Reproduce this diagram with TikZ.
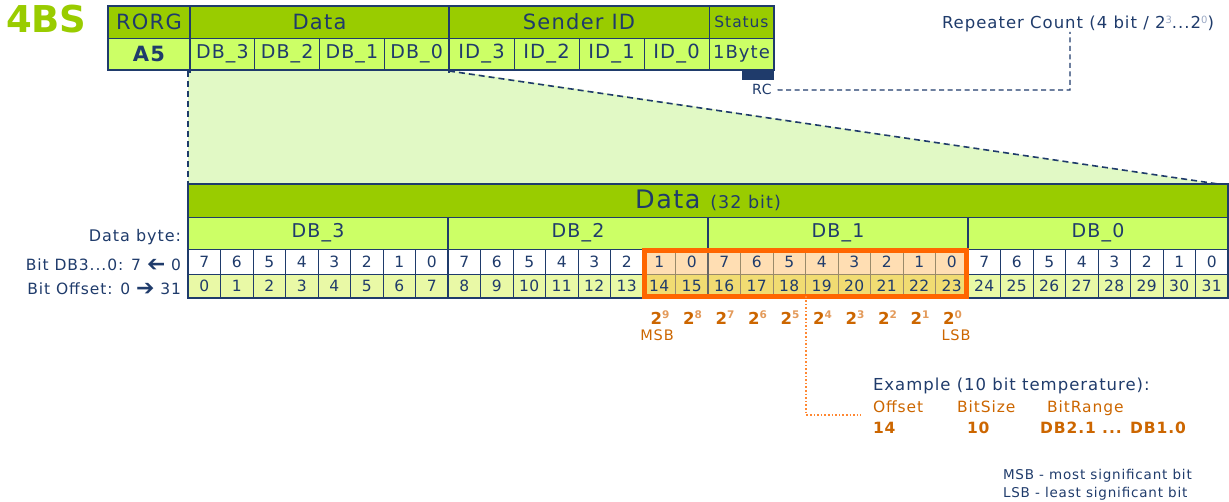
\documentclass[tikz,border=0pt]{standalone}
\usepackage{fontspec}
\setmainfont{DejaVu Sans}[LetterSpace=6]
\usetikzlibrary{calc,fit}
\definecolor{navy}{HTML}{1F3B6B}
\definecolor{hdrgreen}{HTML}{99CC00}
\definecolor{rowgreen}{HTML}{CCFF66}
\definecolor{offgreen}{HTML}{E9F9A6}
\definecolor{trapfill}{HTML}{E1F9C5}
\definecolor{orbox}{HTML}{FF6600}
\definecolor{ortext}{HTML}{CC6600}
\definecolor{orsup}{HTML}{E39A5A}
\definecolor{peach}{HTML}{FFDEB3}
\definecolor{gold}{HTML}{F1DC72}
\definecolor{orline}{HTML}{FF8833}
\definecolor{hlgrid}{HTML}{9A8A6A}
\definecolor{supgray}{HTML}{9AA8C4}
\newcommand\myfs[1]{\fontsize{#1}{#1}\selectfont}
\newcommand\pw[1]{{\bfseries 2}\raisebox{6pt}{\myfs{10.5}\color{orsup}\bfseries #1}}
\newcommand\rsup[1]{\raisebox{5pt}{\myfs{10}\color{supgray}#1}}
\newcommand\rarr{\raisebox{-1pt}{\addfontfeature{LetterSpace=0}\myfs{22}\bfseries ➔}}
\newcommand\larr{\reflectbox{\rarr}}
\begin{document}
\begin{tikzpicture}[x=1pt,y=-1pt,
  cellbox/.style={rectangle, draw=navy, line width=0.8pt, inner sep=0pt, outer sep=0pt, anchor=north west, text=navy},
  lbl/.style={inner sep=0pt, outer sep=0pt, text=navy},
  orlbl/.style={inner sep=0pt, outer sep=0pt, text=ortext},
  navydash/.style={draw=navy, line width=1.6pt, dash pattern=on 6pt off 4pt},
  ordots/.style={draw=orline, line width=2pt, dash pattern=on 1.6pt off 2pt},
  sepline/.style={draw=navy, line width=2.5pt}
]
\useasboundingbox (0,0) rectangle (1229,502);

% title
\node[lbl, anchor=base west, text=hdrgreen, font=\myfs{37}\bfseries\addfontfeature{LetterSpace=0}] (fourbs) at (6,33) {4BS};

% trapezoid
\fill[trapfill] (188,70) -- (449,70) -- (1218,184) -- (188,184) -- cycle;
\draw[navydash] (188,71) -- (188,184);
\draw[navydash] (449,71) -- (1218,184);

% top telegram table
\node[cellbox, fill=hdrgreen, minimum width=82pt, minimum height=32pt, font=\myfs{21}] (rorg) at (108,6) {RORG};
\node[cellbox, fill=rowgreen, minimum width=82pt, minimum height=32pt, font=\myfs{21}\bfseries] (a5) at (108,38) {A5};
\node[cellbox, fill=hdrgreen, minimum width=259pt, minimum height=32pt, font=\myfs{21}] (dhdr) at (190,6) {Data};
\foreach \n [count=\k from 0] in {3,2,1,0}
  \node[cellbox, fill=rowgreen, minimum width=64.75pt, minimum height=32pt, font=\myfs{19}] (tdb\n) at ({190+64.75*\k},38) {DB\_\n};
\node[cellbox, fill=hdrgreen, minimum width=260pt, minimum height=32pt, font=\myfs{21}] (shdr) at (449,6) {Sender ID};
\foreach \n [count=\k from 0] in {3,2,1,0}
  \node[cellbox, fill=rowgreen, minimum width=65pt, minimum height=32pt, font=\myfs{19.5}] (tid\n) at ({449+65*\k},38) {ID\_\n};
\node[cellbox, fill=hdrgreen, minimum width=65pt, minimum height=32pt, font=\myfs{15.5}] (status) at (709,6) {Status};
\node[cellbox, fill=rowgreen, minimum width=65pt, minimum height=32pt, font=\myfs{18}] (onebyte) at (709,38) {1Byte};
\draw[navy, line width=1.3pt] (rorg.north west) rectangle (onebyte.south east);
\draw[sepline] (dhdr.north west) -- (190,73);
\draw[sepline] (shdr.north west) -- (449,73);
\node[fill=navy, minimum width=32pt, minimum height=10pt, inner sep=0pt, outer sep=0pt, anchor=north east] (rcbar) at (onebyte.south east) {};

% RC / repeater count
\node[lbl, anchor=base west, font=\myfs{14}] (rc) at (752,95) {RC};
\node[lbl, anchor=base west, font=\myfs{16.5}] (rep) at (942,28.5) {Repeater Count (4 bit / 2\rsup{3}...2\rsup{0})};
\coordinate (rcc) at (1070,90);
\draw[navydash, line width=1.3pt, dash pattern=on 5pt off 3.5pt] ($(rc.east)+(6,0)$) -- (rcc) -- (rcc |- rep.south);

% big data table
\node[cellbox, fill=hdrgreen, minimum width=1040pt, minimum height=33pt] (bhdr) at (188,184) {\myfs{25.5}Data \myfs{17.5}(32 bit)};
\foreach \n [count=\k from 0] in {3,2,1,0}
  \node[cellbox, fill=rowgreen, minimum width=260pt, minimum height=32pt, font=\myfs{19}] (bdb\n) at ({188+260*\k},217) {DB\_\n};
\foreach \i in {0,...,31} {
  \pgfmathtruncatemacro\bv{7-mod(\i,8)}
  \pgfmathsetmacro\xx{188+32.5*\i}
  \pgfmathtruncatemacro\hl{(\i>13)&&(\i<24)}
  \ifnum\hl=1 \def\bfl{peach}\def\ofl{gold}\def\grd{hlgrid}\else\def\bfl{white}\def\ofl{offgreen}\def\grd{navy}\fi
  \node[cellbox, draw=\grd, fill=\bfl, minimum width=32.5pt, minimum height=25pt, font=\myfs{15.5}] (bit\i) at (\xx,249) {\bv};
  \node[cellbox, draw=\grd, fill=\ofl, minimum width=32.5pt, minimum height=24pt, font=\myfs{15.5}\addfontfeature{LetterSpace=2}] (off\i) at (\xx,274) {\i};
}
\foreach \k in {1,2,3}
  \draw[sepline] ({188+260*\k},217) -- ({188+260*\k},298);
\draw[draw=black!60, line width=2.5pt] (708,249) -- (708,298);
\draw[navy, line width=1.3pt] (bhdr.north west) rectangle (off31.south east);

% highlight box
\node[draw=orbox, line width=5pt, inner sep=-1.5pt, outer sep=0pt, fit=(bit14)(off23)] (obox) {};

% left labels
\node[lbl, anchor=base east, font=\myfs{16}] (lbyte) at (181,242) {Data byte:};
\node[lbl, anchor=base east, font=\myfs{15.5}] (lbit) at (181,270.5) {Bit DB3...0: 7 \larr{} 0};
\node[lbl, anchor=base east, font=\myfs{15.5}] (loff) at (181,295) {Bit Offset: 0 \rarr{} 31};

% powers of two
\foreach \k in {0,...,9} {
  \pgfmathtruncatemacro\e{9-\k}
  \node[orlbl, anchor=base, font=\myfs{16.5}] (p\e) at ({660+32.5*\k},325) {\pw{\e}};
}
\node[orlbl, anchor=base, font=\myfs{14.5}] (msb) at (657,341) {MSB};
\node[orlbl, anchor=base, font=\myfs{14.5}] (lsb) at (956,341) {LSB};

% example
\node[lbl, anchor=base west, font=\myfs{16.5}] (ex) at (873,391) {Example (10 bit temperature):};
\node[orlbl, anchor=base west, font=\myfs{15.5}] (offl) at (873,413) {Offset};
\node[orlbl, anchor=base west, font=\myfs{15.5}] (bsl) at (957,413) {BitSize};
\node[orlbl, anchor=base west, font=\myfs{15.5}] (brl) at (1047,413) {BitRange};
\node[orlbl, anchor=base west, font=\myfs{15.5}\bfseries] (offv) at (873,433) {14};
\node[orlbl, anchor=base west, font=\myfs{15.5}\bfseries] (bsv) at (967,433) {10};
\node[orlbl, anchor=base west, font=\myfs{15.5}\bfseries] (brv) at (1040,433) {DB2.1 ... DB1.0};
\coordinate (dc) at (806,415);
\draw[ordots] (obox.south -| dc) -- (dc) -- ($(dc -| offl.west)+(-12,0)$);

% legend
\node[lbl, anchor=base west, font=\myfs{13.5}] (leg1) at (1003,479) {MSB - most significant bit};
\node[lbl, anchor=base west, font=\myfs{13.5}] (leg2) at (1003,497) {LSB - least significant bit};
\end{tikzpicture}
\end{document}
